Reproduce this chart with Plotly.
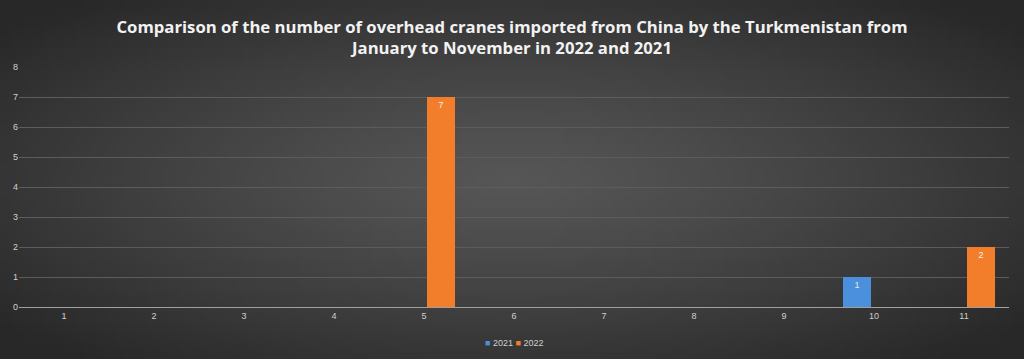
import plotly.graph_objects as go
import zlib, struct, base64, math

months = ["1", "2", "3", "4", "5", "6", "7", "8", "9", "10", "11"]
values_2021 = [0, 0, 0, 0, 0, 0, 0, 0, 0, 1, 0]
values_2022 = [0, 0, 0, 0, 7, 0, 0, 0, 0, 0, 2]
y_ticks = [0, 1, 2, 3, 4, 5, 6, 7, 8]

W, H = 1024, 359
ML, MR, MT, MB = 19, 15, 67, 52
PW, PH = W - ML - MR, H - MT - MB


def radial_png(w, h, c_in, c_out):
    rows = b""
    for j in range(h):
        row = b"\x00"
        for i in range(w):
            dx = (i + 0.5) / w - 0.5
            dy = (j + 0.5) / h - 0.5
            d = min(1.0, math.sqrt((dx / 0.5) ** 2 + (dy / 0.5) ** 2) / 1.3)
            t = d ** 1.2
            v = int(round(c_in + (c_out - c_in) * t))
            row += bytes([v, v, v])
        rows += row
    def chunk(tag, data):
        c = struct.pack(">I", len(data)) + tag + data
        return c + struct.pack(">I", zlib.crc32(tag + data) & 0xffffffff)
    png = b"\x89PNG\r\n\x1a\n"
    png += chunk(b"IHDR", struct.pack(">IIBBBBB", w, h, 8, 2, 0, 0, 0))
    png += chunk(b"IDAT", zlib.compress(rows, 9))
    png += chunk(b"IEND", b"")
    return "data:image/png;base64," + base64.b64encode(png).decode()


bg = radial_png(160, 56, 0x56, 0x28)


def labels(vals):
    return [str(v) if v else "" for v in vals]


fig = go.Figure()
fig.add_trace(go.Bar(
    x=months, y=values_2021, name="2021",
    marker=dict(color="#4a90dc", line=dict(width=0)),
    text=labels(values_2021), textposition="inside", insidetextanchor="end",
    textfont=dict(color="#e8e8e8", size=9, family="Liberation Sans"),
    showlegend=False,
))
fig.add_trace(go.Bar(
    x=months, y=values_2022, name="2022",
    marker=dict(color="#f27d2a", line=dict(width=0)),
    text=labels(values_2022), textposition="inside", insidetextanchor="end",
    textfont=dict(color="#f2f2f2", size=9, family="Liberation Sans"),
    showlegend=False,
))

fig.add_layout_image(dict(
    source=bg, xref="paper", yref="paper",
    x=-ML / PW, y=1 + MT / PH, sizex=W / PW, sizey=H / PH,
    xanchor="left", yanchor="top", sizing="stretch", layer="below",
))

fig.add_annotation(
    text="<span style='color:#4a90dc'>■</span> 2021 <span style='color:#f27d2a'>■</span> 2022",
    xref="paper", yref="paper", x=0.5, xanchor="center",
    y=-(343 - (MT + PH)) / PH, yanchor="middle", showarrow=False,
    font=dict(family="Liberation Sans", size=9, color="#d0d0d0"),
)

fig.update_layout(
    width=W, height=H,
    paper_bgcolor="#3a3a3a", plot_bgcolor="rgba(0,0,0,0)",
    margin=dict(l=ML, r=MR, t=MT, b=MB, autoexpand=False),
    barmode="group", bargap=0.244, bargroupgap=0.176,
    title=dict(
        text="<b>Comparison of the number of overhead cranes imported from China by the Turkmenistan from<br>January to November in 2022 and 2021</b>",
        x=0.5, xanchor="center", y=1 - 32.5 / H, yanchor="middle",
        font=dict(family="Open Sans", size=16.7, color="#f2f2f2"),
    ),
    font=dict(family="Liberation Sans", color="#d0d0d0", size=9),
    showlegend=False,
    uniformtext=dict(minsize=8, mode="show"),
)
fig.update_xaxes(showgrid=False, showline=True, linecolor="#a0a0a0", linewidth=1,
                 tickfont=dict(size=9, color="#d0d0d0"), ticks="")
fig.update_yaxes(range=[0, 8], tickvals=y_ticks, showgrid=True, gridcolor="#5c5c5c",
                 gridwidth=1, zeroline=False, tickfont=dict(size=9, color="#d0d0d0"),
                 ticks="")

fig.write_html(
    "out.html",
    config={"displayModeBar": False},
    post_script="document.body.style.margin='0';document.body.style.padding='0';document.body.style.overflow='hidden';",
)
